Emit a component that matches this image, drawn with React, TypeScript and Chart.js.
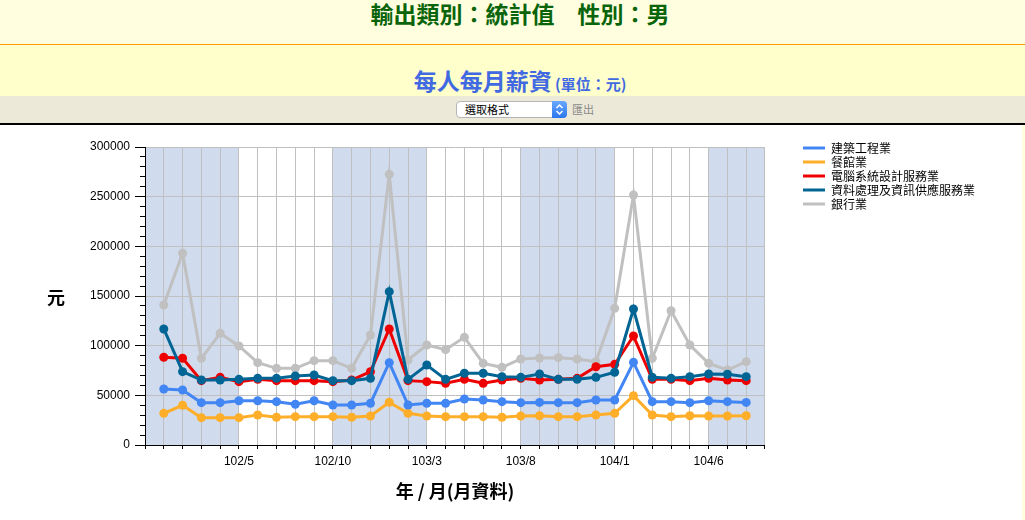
import React, { useEffect, useRef } from "react";
import { Chart, registerables } from "chart.js";

Chart.register(...registerables);

// ---------- data ----------
const months = [
  "102/1", "102/2", "102/3", "102/4", "102/5", "102/6", "102/7", "102/8", "102/9", "102/10", "102/11", "102/12",
  "103/1", "103/2", "103/3", "103/4", "103/5", "103/6", "103/7", "103/8", "103/9", "103/10", "103/11", "103/12",
  "104/1", "104/2", "104/3", "104/4", "104/5", "104/6", "104/7", "104/8",
];
const tickLabels = ["102/5", "102/10", "103/3", "103/8", "104/1", "104/6"];
// shaded periods, in month-index units (-1 = 101/12, 32 = 104/9)
const shadedPeriods: [number, number][] = [[-1, 4], [9, 14], [19, 24], [29, 32]];

const seriesNames = ["建築工程業", "餐館業", "電腦系統設計服務業", "資料處理及資訊供應服務業", "銀行業"];

const construction = [56400, 55400, 42600, 42600, 44600, 44600, 43600, 41000, 44600, 40300, 40300, 42000, 82900, 40300, 42000, 42000, 46300, 45300, 43600, 42600, 42900, 42600, 42600, 45300, 45300, 83200, 43600, 43600, 42600, 44600, 43600, 42900];
const restaurant = [31900, 40000, 27500, 27500, 27500, 30200, 27900, 28500, 28500, 28500, 27900, 29200, 43000, 31900, 29200, 28500, 28500, 28500, 27900, 29200, 29500, 28500, 28500, 30200, 31900, 49700, 30200, 28500, 29500, 29200, 29200, 29500];
const computerDesign = [88300, 87300, 64800, 68100, 63800, 66100, 64800, 64800, 64800, 63800, 65400, 73800, 116800, 64800, 63800, 62100, 66100, 62100, 65400, 67100, 65400, 66100, 67100, 78800, 81200, 109700, 66100, 66100, 64800, 67100, 65400, 64800];
const dataProcessing = [116800, 73800, 65400, 65400, 66100, 67100, 67100, 69500, 70500, 64800, 64800, 67100, 154400, 66100, 80500, 66100, 72200, 72200, 68800, 68100, 71500, 66100, 66100, 68100, 73200, 136900, 68100, 67100, 68800, 71500, 71200, 68800];
const banking = [140900, 193000, 87300, 112400, 99700, 82900, 77200, 77200, 84900, 84900, 77200, 110700, 272500, 85600, 100700, 96000, 108400, 82200, 78200, 86600, 87600, 87900, 86600, 83900, 137600, 251700, 87300, 135200, 100700, 82200, 75500, 83900];

const seriesValues = [construction, restaurant, computerDesign, dataProcessing, banking];
const seriesColors = ["#4286f4", "#ffae2a", "#ee0000", "#006594", "#c0c0c0"];
const seriesOrder = [2, 3, 1, 0, 4];

const yTickLabels = [0, 50000, 100000, 150000, 200000, 250000, 300000];

const LABEL_FONT = '"Liberation Sans", Arial, sans-serif';
const CJK_FONT = '"Noto Sans CJK TC", "Noto Sans CJK SC", sans-serif';

const bandPlugin = {
  id: "bands",
  beforeDraw(chart: any) {
    const { ctx, chartArea, scales } = chart;
    const x = scales.x;
    ctx.save();
    ctx.fillStyle = "#d0dbed";
    for (const [a, b] of shadedPeriods) {
      const x1 = x.getPixelForValue(a);
      const x2 = x.getPixelForValue(b);
      ctx.fillRect(x1, chartArea.top, x2 - x1, chartArea.bottom - chartArea.top);
    }
    ctx.restore();
  },
};

function SalaryChart() {
  const ref = useRef<HTMLCanvasElement | null>(null);
  useEffect(() => {
    if (!ref.current) return;
    const chart = new Chart(ref.current, {
      type: "line",
      data: {
        datasets: seriesNames.map((name, i) => ({
          label: name,
          data: seriesValues[i].map((v, j) => ({ x: j, y: v })),
          borderColor: seriesColors[i],
          backgroundColor: seriesColors[i],
          pointBackgroundColor: seriesColors[i],
          pointBorderColor: seriesColors[i],
          pointBorderWidth: 0,
          pointRadius: 4.5,
          borderWidth: 3,
          tension: 0,
          fill: false,
          order: seriesOrder[i],
          xAxisID: "x",
          yAxisID: "y",
        })),
      },
      options: {
        animation: false,
        responsive: false,
        layout: { padding: { top: 15, right: 40, bottom: 0, left: 0 } },
        plugins: {
          tooltip: { enabled: false },
          legend: {
            position: "right",
            align: "start",
            maxWidth: 400,
            labels: {
              boxWidth: 22,
              boxHeight: 3,
              padding: 2,
              color: "#000",
              font: { family: CJK_FONT, size: 12 },
              sort: (a: any, b: any) => a.datasetIndex - b.datasetIndex,
              generateLabels: (c: any) =>
                (Chart.defaults.plugins.legend.labels.generateLabels as any)(c).map((l: any) => ({
                  ...l,
                  lineWidth: 0,
                  fillStyle: seriesColors[l.datasetIndex],
                })),
            },
          },
        },
        scales: {
          x: {
            type: "linear",
            position: "bottom",
            min: -1,
            max: months.length,
            afterFit: (s: any) => {
              s.height = 75;
            },
            ticks: {
              stepSize: 1,
              maxTicksLimit: 200,
              autoSkip: false,
              maxRotation: 0,
              minRotation: 0,
              padding: 5,
              color: "#000",
              font: { family: LABEL_FONT, size: 12 },
              callback: (v: any) => {
                const l = months[v as number];
                return l && tickLabels.includes(l) ? l : "";
              },
            },
            grid: {
              color: (c: any) => (c.tick && c.tick.value === -1 ? "rgba(0,0,0,0)" : "#c0c0c0"),
              lineWidth: 1,
              tickLength: 4,
              tickColor: "#000",
              tickWidth: 1,
            },
            border: { color: "#000", width: 1 },
            title: {
              display: true,
              text: "年 / 月(月資料)",
              color: "#000",
              font: { family: CJK_FONT, size: 18, weight: "bold" },
              padding: { top: 0, bottom: 18 },
            },
          },
          y: {
            type: "linear",
            position: "left",
            min: 0,
            max: 300000,
            afterFit: (s: any) => {
              s.width = 145;
            },
            ticks: {
              stepSize: 10000,
              maxTicksLimit: 200,
              autoSkip: false,
              padding: 5,
              color: "#000",
              font: { family: LABEL_FONT, size: 12 },
              callback: (v: any) => (yTickLabels.includes(v as number) ? String(v) : ""),
            },
            grid: {
              color: (c: any) =>
                c.tick && yTickLabels.includes(c.tick.value) && c.tick.value !== 0 ? "#c0c0c0" : "rgba(0,0,0,0)",
              lineWidth: 1,
              tickLength: 10,
              tickColor: "#000",
              tickWidth: 1,
              tickBorderDash: (c: any) => (c.tick && yTickLabels.includes(c.tick.value) ? [] : [0, 5, 5, 10]),
            },
            border: { color: "#000", width: 1 },
          },
          xTop: {
            type: "linear",
            position: "top",
            display: true,
            grid: { display: false, drawTicks: false },
            ticks: { display: false },
            border: { display: false },
            afterFit: (s: any) => {
              s.height = 7;
            },
          },
          yRight: {
            type: "linear",
            position: "right",
            display: true,
            grid: { display: false, drawTicks: false },
            ticks: { display: false },
            border: { display: false },
            afterFit: (s: any) => {
              s.width = 36;
            },
          },
        },
      } as any,
      plugins: [bandPlugin],
    });
    return () => chart.destroy();
  }, []);
  return <canvas ref={ref} width={1025} height={395} style={{ display: "block", width: 1025, height: 395 }} />;
}

export default function App() {
  useEffect(() => {
    document.body.style.margin = "0";
    document.body.style.overflow = "hidden";
  }, []);
  return (
    <div style={{ width: 1025, height: 520, overflow: "hidden", fontFamily: CJK_FONT, position: "relative" }}>
      <div
        style={{
          height: 44,
          background: "#ffffe0",
          color: "#0a640a",
          fontSize: 23,
          fontWeight: "bold",
          lineHeight: "26px",
          textAlign: "center",
          paddingLeft: 15,
          boxSizing: "border-box",
        }}
      >
        輸出類別：統計值　性別：男
      </div>
      <div style={{ height: 1, background: "#ff9900" }} />
      <div
        style={{
          height: 51,
          background: "#ffffcc",
          color: "#4169e1",
          fontWeight: "bold",
          textAlign: "center",
          paddingLeft: 15,
          paddingTop: 22,
          boxSizing: "border-box",
          lineHeight: "26px",
        }}
      >
        <span style={{ fontSize: 23 }}>每人每月薪資</span>
        <span style={{ fontSize: 15 }}> (單位：元)</span>
      </div>
      <div style={{ height: 27, background: "#ece9d8", position: "relative" }}>
        <div
          style={{
            position: "absolute",
            left: 456,
            top: 5,
            width: 111,
            height: 17,
            background: "#fff",
            border: "1px solid #b5b5b5",
            borderRadius: 4,
            boxSizing: "border-box",
            fontSize: 11,
            lineHeight: "15px",
            color: "#000",
          }}
        >
          <span style={{ position: "absolute", left: 8, top: 0 }}>選取格式</span>
          <div
            style={{
              position: "absolute",
              right: -1,
              top: -1,
              width: 15,
              height: 17,
              background: "linear-gradient(#6aa9ff, #2b77ee)",
              borderRadius: "0 4px 4px 0",
            }}
          >
            <svg width="15" height="17" viewBox="0 0 15 17" style={{ display: "block" }}>
              <polyline points="4.5,7 7.5,4 10.5,7" fill="none" stroke="#fff" strokeWidth="1.5" />
              <polyline points="4.5,10 7.5,13 10.5,10" fill="none" stroke="#fff" strokeWidth="1.5" />
            </svg>
          </div>
        </div>
        <span
          style={{
            position: "absolute",
            left: 572,
            top: 6,
            fontSize: 11,
            lineHeight: "15px",
            color: "#8a8a8a",
          }}
        >
          匯出
        </span>
      </div>
      <div style={{ height: 2, background: "#000" }} />
      <div style={{ height: 395, background: "#fff", position: "relative" }}>
        <SalaryChart />
        <span
          style={{
            position: "absolute",
            left: 47,
            top: 162,
            fontSize: 18,
            lineHeight: "18px",
            fontWeight: "bold",
            color: "#000",
          }}
        >
          元
        </span>
        <div style={{ position: "absolute", left: 1022, top: 0, width: 3, height: 395, background: "#ffffdd" }} />
      </div>
    </div>
  );
}
